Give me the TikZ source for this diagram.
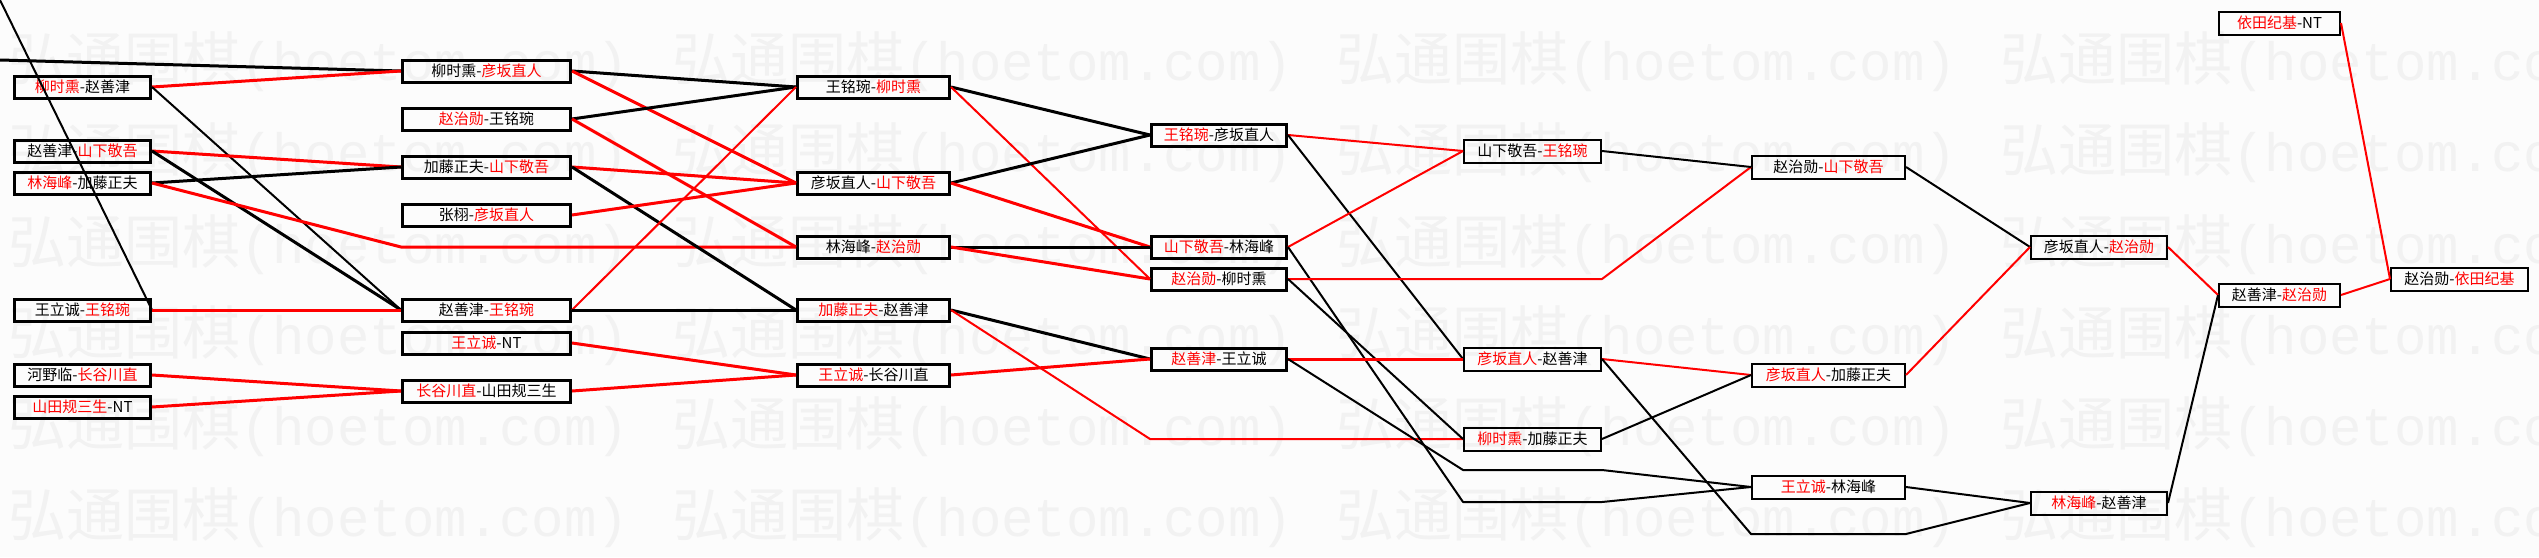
\documentclass[tikz,border=0pt]{standalone}
\usepackage{fontspec}
\setmainfont{Noto Sans CJK SC}
\newfontfamily\wmcjk{Noto Sans CJK SC}
\newfontfamily\wmmono{Liberation Mono}
\definecolor{wred}{RGB}{255,0,0}
\definecolor{wmark}{RGB}{242,242,242}
\definecolor{bgcol}{RGB}{252,252,252}
\newcommand{\redname}[1]{\textcolor{wred}{#1}}
\begin{document}
\begin{tikzpicture}[x=1pt,y=-1pt,
  boxbase/.style={draw=black, rectangle, inner sep=0pt, text=black, font=\fontsize{15}{18}\selectfont},
  thickbox/.style={boxbase, line width=3pt, minimum height=22pt},
  thinbox/.style={boxbase, line width=2pt, minimum height=23pt},
  boxA/.style={thickbox, minimum width=136pt},
  boxB/.style={thickbox, minimum width=168pt},
  boxC/.style={thickbox, minimum width=152pt},
  boxD/.style={thickbox, minimum width=135pt},
  boxE/.style={thinbox, minimum width=137pt},
  boxF/.style={thinbox, minimum width=153pt},
  boxG/.style={thinbox, minimum width=136pt},
  boxH/.style={thinbox, minimum width=121pt},
  boxI/.style={thinbox, minimum width=137pt},
  rdthick/.style={draw=wred, line width=3pt, line join=round},
  bkthick/.style={draw=black, line width=3pt, line join=round},
  rdthin/.style={draw=wred, line width=2pt, line join=round},
  bkthin/.style={draw=black, line width=2pt, line join=round},
  wmtext/.style={anchor=west, inner sep=0pt, text=wmark}
]
\useasboundingbox (0,0) rectangle (2539,557);
\fill[bgcol] (0,0) rectangle (2539,557);

% watermark
\foreach \j in {0,...,5} {
  \foreach \i in {0,...,3} {
    \node[wmtext] (wm\j\i) at ({8+664*\i},{62+91.2*\j})
      {{\wmcjk\fontsize{58}{60}\selectfont 弘通围棋}{\wmmono\fontsize{54}{60}\selectfont (hoetom.com)}};
  }
}

% round 1
\node[boxA] (a1) at (82.5,87)  {\redname{柳时熏}-赵善津};
\node[boxA] (a2) at (82.5,151) {赵善津-\redname{山下敬吾}};
\node[boxA] (a3) at (82.5,183) {\redname{林海峰}-加藤正夫};
\node[boxA] (a4) at (82.5,310) {王立诚-\redname{王铭琬}};
\node[boxA] (a5) at (82.5,375) {河野临-\redname{长谷川直}};
\node[boxA] (a6) at (82.5,407) {\redname{山田规三生}-NT};

% round 2
\node[boxB] (b1) at (486.5,71)  {柳时熏-\redname{彦坂直人}};
\node[boxB] (b2) at (486.5,119) {\redname{赵治勋}-王铭琬};
\node[boxB] (b3) at (486.5,167) {加藤正夫-\redname{山下敬吾}};
\node[boxB] (b4) at (486.5,215) {张栩-\redname{彦坂直人}};
\node[boxB] (b5) at (486.5,310) {赵善津-\redname{王铭琬}};
\node[boxB] (b6) at (486.5,343) {\redname{王立诚}-NT};
\node[boxB] (b7) at (486.5,391) {\redname{长谷川直}-山田规三生};

% round 3
\node[boxC] (c1) at (873.5,87)  {王铭琬-\redname{柳时熏}};
\node[boxC] (c2) at (873.5,183) {彦坂直人-\redname{山下敬吾}};
\node[boxC] (c3) at (873.5,247) {林海峰-\redname{赵治勋}};
\node[boxC] (c4) at (873.5,310) {\redname{加藤正夫}-赵善津};
\node[boxC] (c5) at (873.5,375) {\redname{王立诚}-长谷川直};

% round 4
\node[boxD] (d1) at (1219,135) {\redname{王铭琬}-彦坂直人};
\node[boxD] (d2) at (1219,247) {\redname{山下敬吾}-林海峰};
\node[boxD] (d3) at (1219,279) {\redname{赵治勋}-柳时熏};
\node[boxD] (d4) at (1219,359) {\redname{赵善津}-王立诚};

% round 5
\node[boxE] (e1) at (1532.5,151) {山下敬吾-\redname{王铭琬}};
\node[boxE] (e2) at (1532.5,359) {\redname{彦坂直人}-赵善津};
\node[boxE] (e3) at (1532.5,439) {\redname{柳时熏}-加藤正夫};

% round 6
\node[boxF] (f1) at (1828.5,167) {赵治勋-\redname{山下敬吾}};
\node[boxF] (f2) at (1828.5,375) {\redname{彦坂直人}-加藤正夫};
\node[boxF] (f3) at (1828.5,487) {\redname{王立诚}-林海峰};

% round 7
\node[boxG] (g1) at (2099,247) {彦坂直人-\redname{赵治勋}};
\node[boxG] (g2) at (2099,503) {\redname{林海峰}-赵善津};

% round 8
\node[boxH] (h0) at (2279.5,23)  {\redname{依田纪基}-NT};
\node[boxH] (h1) at (2279.5,295) {赵善津-\redname{赵治勋}};

% final
\node[boxI] (i1) at (2459.5,279) {赵治勋-\redname{依田纪基}};

% free ends and elbows
\coordinate (tl) at (0,0);
\coordinate (ml) at (0,60);
\coordinate (k1) at (401,247);
\coordinate (k2) at (1150,439);
\coordinate (k3) at (1602,279);
\coordinate (k4) at (1463,470);
\coordinate (k5) at (1602,470);
\coordinate (k6) at (1463,502);
\coordinate (k7) at (1602,502);
\coordinate (k8) at (1751,534);
\coordinate (k9) at (1906,534);

% round 1 -> 2
\draw[bkthick] (ml) -- (b1.west);
\draw[bkthin] (tl) -- (a4.east);
\draw[rdthick] (a1.east) -- (b1.west);
\draw[bkthin] (a1.east) -- (b5.west);
\draw[rdthick] (a2.east) -- (b3.west);
\draw[bkthick] (a2.east) -- (b5.west);
\draw[bkthick] (a3.east) -- (b3.west);
\draw[rdthick] (a3.east) -- (k1) -- (c3.west);
\draw[rdthick] (a4.east) -- (b5.west);
\draw[rdthick] (a5.east) -- (b7.west);
\draw[rdthick] (a6.east) -- (b7.west);

% round 2 -> 3
\draw[bkthick] (b1.east) -- (c1.west);
\draw[rdthick] (b1.east) -- (c2.west);
\draw[bkthick] (b2.east) -- (c1.west);
\draw[rdthick] (b2.east) -- (c3.west);
\draw[rdthick] (b3.east) -- (c2.west);
\draw[bkthick] (b3.east) -- (c4.west);
\draw[rdthick] (b4.east) -- (c2.west);
\draw[rdthin] (b5.east) -- (c1.west);
\draw[bkthick] (b5.east) -- (c4.west);
\draw[rdthick] (b6.east) -- (c5.west);
\draw[rdthick] (b7.east) -- (c5.west);

% round 3 -> 4
\draw[bkthick] (c1.east) -- (d1.west);
\draw[rdthin] (c1.east) -- (d3.west);
\draw[bkthick] (c2.east) -- (d1.west);
\draw[rdthick] (c2.east) -- (d2.west);
\draw[bkthick] (c3.east) -- (d2.west);
\draw[rdthick] (c3.east) -- (d3.west);
\draw[bkthick] (c4.east) -- (d4.west);
\draw[rdthin] (c4.east) -- (k2) -- (e3.west);
\draw[rdthick] (c5.east) -- (d4.west);

% round 4 -> 5
\draw[rdthin] (d1.east) -- (e1.west);
\draw[bkthin] (d1.east) -- (e2.west);
\draw[rdthin] (d2.east) -- (e1.west);
\draw[bkthin] (d2.east) -- (k6) -- (k7) -- (f3.west);
\draw[rdthin] (d3.east) -- (k3) -- (f1.west);
\draw[bkthin] (d3.east) -- (e3.west);
\draw[rdthick] (d4.east) -- (e2.west);
\draw[bkthin] (d4.east) -- (k4) -- (k5) -- (f3.west);

% round 5 -> 6
\draw[bkthin] (e1.east) -- (f1.west);
\draw[rdthin] (e2.east) -- (f2.west);
\draw[bkthin] (e2.east) -- (k8) -- (k9) -- (g2.west);
\draw[bkthin] (e3.east) -- (f2.west);

% round 6 -> 7
\draw[bkthin] (f1.east) -- (g1.west);
\draw[rdthin] (f2.east) -- (g1.west);
\draw[bkthin] (f3.east) -- (g2.west);

% round 7 -> 8 -> final
\draw[rdthin] (g1.east) -- (h1.west);
\draw[bkthin] (g2.east) -- (h1.west);
\draw[rdthin] (h1.east) -- (i1.west);
\draw[rdthin] (h0.east) -- (i1.west);
\end{tikzpicture}
\end{document}
